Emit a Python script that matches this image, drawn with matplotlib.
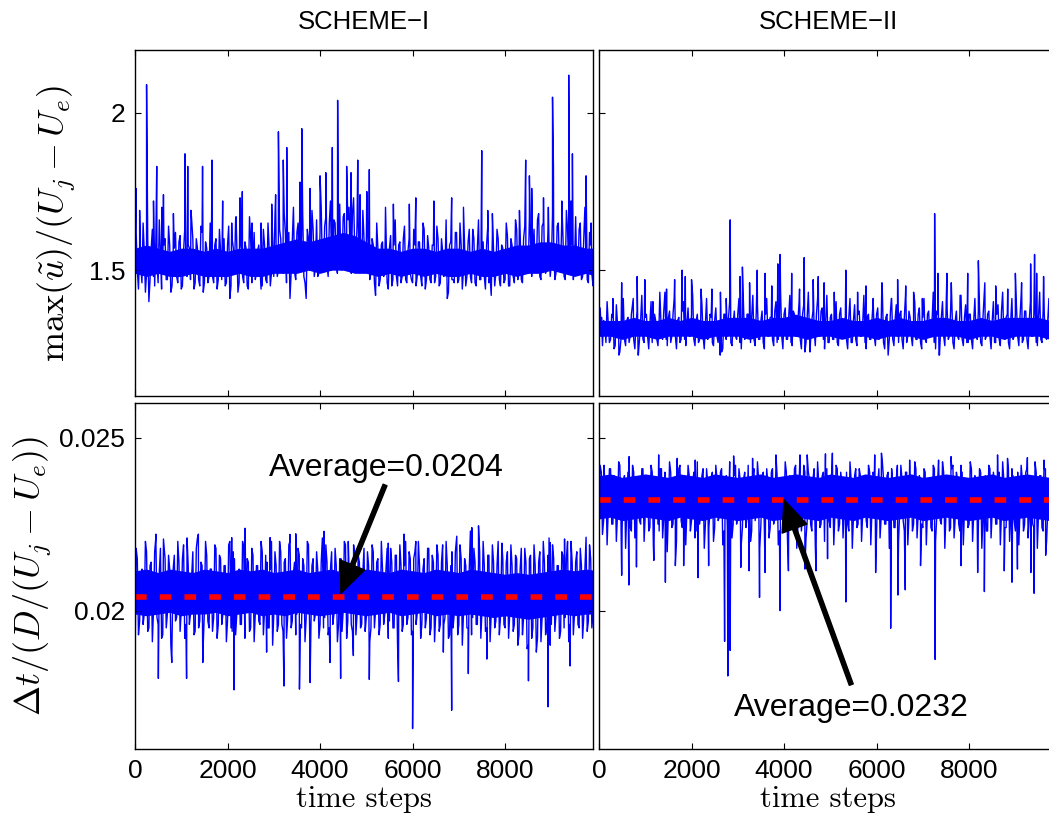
import numpy as np
import matplotlib.pyplot as plt

plt.rcParams['mathtext.fontset'] = 'cm'
plt.rcParams['font.family'] = ['Liberation Sans', 'DejaVu Sans']

# time step of each base sample (one reading every 50 steps, a second one 25 steps later)
steps = np.arange(200) * 50
# time step of each reading of the solid core of the trace
core_steps = np.arange(41) * 250

# ---- SCHEME-I, max(u)/(Uj-Ue), in hundredths ----
u1_base = [
    155, 150, 158, 146, 156, 149, 140, 157, 148, 159, 146, 156, 149, 160, 147, 158, 145, 157, 148, 159,
    144, 156, 149, 158, 147, 160, 146, 157, 145, 162, 146, 157, 148, 156, 146, 160, 147, 156, 149, 145,
    158, 141, 160, 149, 158, 146, 157, 146, 157, 144, 160, 150, 147, 156, 151, 145, 158, 146, 157, 149,
    148, 158, 150, 160, 149, 162, 151, 141, 160, 149, 162, 150, 161, 148, 141, 160, 150, 163, 151, 148,
    162, 151, 164, 152, 165, 150, 166, 152, 160, 152, 167, 153, 166, 155, 168, 156, 165, 151, 150, 160,
    158, 152, 149, 158, 142, 157, 147, 159, 150, 146, 157, 145, 158, 148, 158, 146, 160, 147, 156, 149,
    146, 158, 148, 159, 145, 163, 147, 157, 146, 158, 148, 160, 146, 156, 149, 141, 158, 147, 146, 162,
    147, 158, 150, 145, 159, 148, 163, 146, 157, 147, 150, 148, 158, 146, 142, 156, 149, 160, 145, 157,
    147, 161, 145, 158, 146, 163, 150, 147, 160, 151, 149, 160, 152, 150, 166, 148, 164, 152, 150, 158,
    152, 160, 149, 165, 150, 161, 147, 163, 150, 158, 152, 149, 163, 147, 160, 152, 146, 158, 145, 158,
]
u1_mid = [
    162, 144, 151, 165, 143, 160, 147, 163, 145, 152, 166, 144, 158, 147, 164, 143, 155, 162, 146, 161,
    145, 163, 148, 157, 166, 144, 160, 147, 164, 143, 159, 146, 165, 148, 158, 144, 163, 147, 160, 146,
    164, 145, 157, 166, 143, 161, 148, 159, 145, 167, 146, 162, 149, 158, 144, 163, 147, 165, 145, 160,
    167, 148, 163, 150, 168, 146, 162, 149, 170, 147, 165, 151, 168, 146, 163, 150, 169, 148, 166, 149,
    170, 150, 167, 148, 172, 151, 165, 149, 171, 150, 168, 152, 170, 149, 173, 151, 166, 150, 169, 152,
    164, 147, 160, 146, 165, 145, 158, 148, 163, 144, 161, 147, 166, 145, 159, 148, 164, 146, 160, 147,
    163, 145, 159, 148, 165, 144, 161, 147, 158, 146, 164, 145, 160, 148, 166, 143, 159, 147, 162, 146,
    165, 144, 158, 148, 163, 146, 160, 145, 166, 147, 159, 144, 164, 148, 161, 145, 163, 147, 158, 146,
    165, 145, 160, 148, 166, 147, 162, 146, 164, 149, 167, 148, 163, 150, 168, 147, 165, 149, 162, 148,
    168, 147, 164, 150, 166, 148, 169, 149, 163, 147, 167, 150, 165, 148, 170, 147, 162, 149, 166, 148,
]
u1_spikes = [
    (20, 176), (100, 169), (250, 209), (400, 172), (470, 183), (580, 170), (615, 174), (830, 168),
    (1080, 187), (1140, 183), (1210, 169), (1460, 183), (1665, 185), (1895, 172), (2090, 165),
    (2185, 167), (2270, 173), (2320, 175), (2530, 165), (2725, 165), (2955, 171), (3040, 174),
    (3100, 194), (3205, 185), (3280, 189), (3565, 178), (3605, 195), (3785, 176), (4000, 180),
    (4125, 181), (4265, 189), (4380, 204), (4575, 183), (4670, 181), (4815, 185), (4865, 174),
    (5010, 175), (5065, 182), (5415, 170), (5585, 171), (5930, 171), (6070, 173), (6460, 172),
    (6845, 173), (7100, 170), (7495, 188), (7625, 169), (7725, 168), (8310, 169), (8445, 185),
    (8525, 180), (8575, 176), (8830, 173), (8935, 170), (9025, 205), (9045, 183), (9225, 172),
    (9375, 212), (9425, 172), (9455, 187), (9750, 180), (9860, 165),
]
u1_core_lo = [
    149, 148, 149, 148, 148, 149, 148, 148, 148, 149, 148, 148, 149, 149, 149, 150, 149, 150, 150, 149,
    149, 148, 149, 148, 149, 148, 149, 148, 148, 149, 148, 148, 149, 148, 149, 149, 150, 149, 148, 149, 148,
]
u1_core_hi = [
    157, 158, 157, 156, 157, 157, 156, 157, 156, 157, 157, 157, 158, 159, 160, 159, 160, 161, 162, 161,
    159, 157, 157, 156, 157, 157, 156, 157, 157, 156, 157, 156, 157, 158, 158, 159, 159, 158, 158, 157, 157,
]

# ---- SCHEME-II, max(u)/(Uj-Ue), in hundredths ----
u2_base = [
    132, 129, 134, 127, 133, 128, 135, 126, 133, 124, 132, 128, 134, 127, 136, 128, 133, 123, 134, 128,
    135, 129, 133, 127, 136, 128, 134, 129, 137, 128, 135, 127, 136, 129, 134, 127, 137, 128, 133, 129,
    136, 128, 134, 127, 135, 129, 133, 128, 136, 127, 134, 129, 133, 124, 136, 128, 135, 127, 133, 129,
    136, 127, 134, 128, 136, 129, 135, 128, 137, 128, 134, 127, 136, 129, 135, 128, 137, 127, 134, 129,
    136, 128, 135, 127, 137, 129, 134, 128, 136, 124, 135, 130, 134, 131, 136, 129, 137, 128, 134, 127,
    135, 128, 133, 127, 136, 129, 134, 128, 135, 127, 134, 128, 136, 129, 133, 127, 135, 128, 134, 129,
    136, 128, 134, 127, 135, 124, 137, 128, 134, 129, 136, 128, 135, 127, 137, 129, 134, 128, 136, 127,
    135, 128, 136, 129, 134, 127, 137, 123, 135, 129, 136, 128, 137, 127, 134, 129, 136, 128, 135, 127,
    136, 128, 134, 129, 137, 127, 135, 128, 136, 129, 134, 127, 136, 128, 137, 129, 135, 127, 134, 128,
    136, 129, 135, 127, 137, 128, 134, 129, 136, 127, 135, 128, 137, 129, 134, 127, 136, 128, 135, 129,
]
u2_mid = [
    138, 126, 133, 140, 127, 136, 125, 139, 130, 128, 141, 126, 135, 129, 139, 125, 137, 128, 142, 127,
    136, 125, 140, 129, 134, 126, 139, 128, 143, 126, 137, 129, 141, 125, 135, 128, 140, 126, 138, 129,
    142, 126, 136, 128, 139, 125, 141, 129, 135, 126, 138, 127, 143, 125, 136, 129, 140, 126, 137, 128,
    141, 125, 138, 129, 136, 127, 142, 126, 139, 128, 137, 125, 141, 129, 135, 126, 140, 128, 143, 125,
    138, 128, 142, 126, 136, 129, 140, 125, 139, 127, 143, 128, 137, 126, 141, 129, 138, 125, 142, 127,
    136, 128, 140, 126, 138, 129, 135, 125, 141, 127, 139, 126, 137, 129, 142, 125, 136, 128, 140, 126,
    138, 129, 143, 125, 136, 128, 141, 126, 139, 127, 137, 125, 142, 129, 135, 126, 140, 128, 138, 125,
    141, 127, 137, 129, 143, 125, 136, 128, 140, 126, 138, 129, 141, 125, 137, 128, 142, 126, 139, 127,
    136, 125, 141, 128, 138, 126, 142, 129, 137, 125, 140, 127, 139, 126, 143, 128, 136, 125, 141, 129,
    138, 126, 142, 128, 137, 125, 140, 129, 139, 126, 143, 127, 136, 128, 141, 125, 138, 129, 140, 126,
]
u2_spikes = [
    (55, 135), (300, 141), (430, 123), (490, 146), (740, 141), (825, 148), (845, 123), (990, 147),
    (1165, 140), (1315, 143), (1460, 144), (1635, 147), (1795, 150), (1865, 148), (2000, 147),
    (2205, 144), (2440, 144), (2620, 123), (2750, 141), (2835, 166), (3050, 148), (3100, 151),
    (3255, 146), (3420, 150), (3590, 149), (3735, 145), (3865, 152), (3915, 155), (4165, 149),
    (4335, 144), (4435, 154), (4560, 124), (4630, 147), (4740, 148), (4865, 146), (5085, 143),
    (5335, 150), (5590, 143), (5770, 145), (5925, 141), (6115, 146), (6250, 123), (6320, 141),
    (6455, 147), (6630, 145), (6800, 143), (6990, 141), (7255, 168), (7325, 149), (7360, 123),
    (7520, 149), (7615, 146), (7805, 142), (7970, 149), (8200, 153), (8340, 146), (8575, 145),
    (8835, 144), (9000, 149), (9135, 146), (9330, 152), (9415, 155), (9460, 149), (9610, 148),
]
u2_core_lo = [
    129, 129, 128, 129, 129, 128, 129, 129, 129, 128, 129, 129, 129, 128, 129, 129, 129, 129, 128, 129,
    129, 128, 129, 129, 128, 129, 129, 129, 128, 129, 129, 129, 128, 129, 129, 128, 129, 129, 129, 128, 129,
]
u2_core_hi = [
    134, 134, 134, 135, 134, 134, 135, 134, 135, 134, 134, 135, 135, 135, 134, 135, 135, 136, 135, 134,
    134, 135, 134, 134, 135, 134, 135, 134, 134, 135, 135, 134, 134, 135, 134, 135, 135, 135, 135, 134, 134,
]

# ---- SCHEME-I, dt/(D/(Uj-Ue)), in units of 1e-5 ----
dt1_base = [
    2060, 2150, 1970, 2120, 1990, 2170, 1950, 2140, 2000, 2210, 1960, 2180, 1930, 2150, 1990, 2120, 1910, 2160, 1980, 2140,
    2000, 2190, 1960, 2130, 1990, 2170, 1940, 2210, 1970, 2130, 2000, 2160, 1950, 2120, 1980, 2180, 1960, 2150, 1990, 2130,
    1970, 2200, 1940, 2150, 1990, 2120, 1960, 2180, 2000, 2140, 1950, 2160, 1990, 2130, 1960, 2170, 2000, 2140, 1950, 2200,
    1990, 2130, 1960, 2170, 1940, 2150, 1980, 2200, 1970, 2140, 1990, 2160, 1950, 2130, 1980, 2190, 1930, 2150, 1990, 2120,
    1960, 2210, 1980, 2140, 1950, 2170, 1990, 2130, 1960, 2150, 2000, 2190, 1970, 2120, 1940, 2160, 1990, 2140, 1960, 2180,
    1980, 2130, 1950, 2170, 2000, 2150, 1960, 2120, 1990, 2180, 1970, 2140, 1950, 2160, 1990, 2130, 1960, 2200, 1980, 2150,
    1940, 2170, 1990, 2130, 1960, 2150, 1980, 2180, 1950, 2140, 1990, 2160, 1960, 2190, 1980, 2130, 1930, 2170, 1990, 2210,
    1960, 2150, 1990, 2130, 1950, 2230, 1980, 2140, 1960, 2170, 2000, 2130, 1950, 2160, 1990, 2140, 1970, 2200, 1980, 2150,
    1950, 2170, 1990, 2130, 1960, 2150, 1930, 2180, 1980, 2140, 1900, 2160, 1950, 2130, 1920, 2170, 1980, 2140, 1950, 2210,
    1960, 2150, 1990, 2130, 1940, 2160, 1980, 2200, 1960, 2140, 1990, 2170, 1950, 2130, 1980, 2210, 1970, 2150, 1990, 2140,
]
dt1_mid = [
    2180, 1930, 2090, 1960, 2200, 1940, 2130, 1910, 2170, 1980, 2110, 1920, 2190, 1950, 2160, 1900, 2120, 1970, 2200, 1940,
    2150, 1920, 2210, 1960, 2100, 1930, 2180, 1950, 2140, 1900, 2200, 1970, 2120, 1940, 2190, 1920, 2160, 1960, 2130, 1910,
    2190, 1950, 2170, 1930, 2110, 1960, 2200, 1920, 2150, 1940, 2180, 1910, 2130, 1970, 2200, 1930, 2160, 1950, 2120, 1900,
    2170, 1940, 2200, 1960, 2140, 1920, 2190, 1950, 2110, 1930, 2180, 1960, 2150, 1910, 2200, 1940, 2130, 1970, 2170, 1920,
    2140, 1950, 2190, 1930, 2120, 1960, 2180, 1910, 2150, 1940, 2200, 1920, 2130, 1960, 2190, 1930, 2160, 1950, 2110, 1940,
    2170, 1910, 2190, 1950, 2140, 1930, 2200, 1960, 2120, 1920, 2180, 1950, 2160, 1900, 2190, 1940, 2130, 1960, 2170, 1930,
    2150, 1960, 2200, 1920, 2120, 1950, 2180, 1930, 2160, 1910, 2190, 1940, 2140, 1960, 2200, 1920, 2130, 1950, 2170, 1930,
    2190, 1900, 2150, 1950, 2120, 1930, 2180, 1960, 2140, 1920, 2200, 1940, 2160, 1910, 2190, 1950, 2130, 1930, 2170, 1960,
    2140, 1920, 2190, 1940, 2160, 1900, 2120, 1930, 2180, 1890, 2150, 1920, 2190, 1880, 2140, 1910, 2200, 1930, 2160, 1900,
    2190, 1940, 2130, 1920, 2170, 1950, 2150, 1910, 2200, 1930, 2140, 1960, 2180, 1920, 2120, 1940, 2190, 1950, 2160, 1930,
]
dt1_spikes = [
    (0, 1847), (450, 2221), (505, 1804), (615, 2207), (795, 1850), (1115, 1804), (1370, 2221),
    (1465, 1850), (2090, 2211), (2140, 1771), (2380, 2238), (2845, 1880), (2920, 2211), (3220, 1782),
    (3350, 2220), (3475, 2222), (3555, 1773), (3785, 1792), (4085, 2229), (4215, 1850), (4445, 1804),
    (4610, 2200), (4720, 1870), (5065, 1801), (5475, 2195), (5695, 1795), (5815, 2221), (6000, 1659),
    (6070, 2200), (6665, 1880), (6845, 1712), (6955, 2215), (7205, 1818), (7280, 2240), (7425, 2245),
    (7605, 1860), (7930, 2195), (8505, 1797), (8925, 1722), (8975, 2197), (9285, 2207), (9405, 1840),
    (9750, 2212),
]
dt1_core_lo = [
    1990, 1985, 1990, 1995, 1985, 1990, 1990, 1995, 1985, 1990, 1995, 1985, 1990, 1985, 1995, 1990, 1985, 1990, 1995, 1990,
    1985, 1990, 1995, 1985, 1990, 1995, 1985, 1990, 1985, 1990, 1985, 1980, 1985, 1980, 1975, 1980, 1985, 1990, 1985, 1990, 1990,
]
dt1_core_hi = [
    2115, 2120, 2110, 2120, 2115, 2110, 2120, 2115, 2110, 2120, 2115, 2120, 2110, 2115, 2120, 2110, 2115, 2120, 2110, 2115,
    2120, 2115, 2110, 2120, 2115, 2110, 2120, 2115, 2110, 2120, 2115, 2110, 2105, 2110, 2105, 2110, 2115, 2120, 2115, 2120, 2115,
]

# ---- SCHEME-II, dt/(D/(Uj-Ue)), in units of 1e-5 ----
dt2_base = [
    2330, 2400, 2260, 2380, 2290, 2410, 2250, 2370, 2280, 2420, 2240, 2390, 2290, 2370, 2230, 2400, 2270, 2380, 2250, 2410,
    2280, 2370, 2240, 2400, 2290, 2380, 2230, 2410, 2270, 2370, 2290, 2400, 2250, 2380, 2280, 2420, 2240, 2370, 2290, 2390,
    2260, 2400, 2230, 2380, 2280, 2410, 2250, 2370, 2290, 2400, 2240, 2380, 2270, 2410, 2230, 2390, 2280, 2370, 2250, 2420,
    2280, 2380, 2240, 2400, 2270, 2370, 2230, 2410, 2290, 2380, 2250, 2400, 2280, 2370, 2240, 2410, 2270, 2390, 2230, 2380,
    2290, 2400, 2250, 2380, 2270, 2420, 2240, 2370, 2280, 2400, 2260, 2380, 2230, 2410, 2290, 2370, 2250, 2400, 2270, 2390,
    2240, 2380, 2280, 2410, 2250, 2370, 2290, 2400, 2230, 2380, 2270, 2410, 2250, 2390, 2280, 2370, 2240, 2400, 2290, 2380,
    2230, 2410, 2270, 2380, 2250, 2400, 2280, 2370, 2240, 2420, 2290, 2380, 2230, 2400, 2270, 2390, 2250, 2410, 2280, 2370,
    2240, 2400, 2290, 2380, 2230, 2410, 2270, 2370, 2250, 2400, 2280, 2390, 2240, 2420, 2270, 2380, 2230, 2400, 2290, 2370,
    2250, 2410, 2280, 2380, 2240, 2400, 2270, 2390, 2230, 2410, 2290, 2370, 2250, 2400, 2280, 2380, 2240, 2410, 2270, 2390,
    2230, 2400, 2290, 2380, 2250, 2410, 2270, 2370, 2240, 2400, 2280, 2390, 2230, 2410, 2290, 2380, 2250, 2400, 2270, 2390,
]
dt2_mid = [
    2420, 2220, 2360, 2190, 2410, 2250, 2390, 2200, 2430, 2260, 2370, 2180, 2400, 2240, 2420, 2210, 2380, 2260, 2410, 2200,
    2390, 2230, 2420, 2190, 2370, 2250, 2410, 2210, 2400, 2170, 2430, 2240, 2380, 2200, 2410, 2260, 2390, 2190, 2420, 2230,
    2370, 2210, 2430, 2250, 2390, 2180, 2410, 2240, 2380, 2200, 2420, 2260, 2400, 2190, 2370, 2230, 2430, 2210, 2390, 2250,
    2410, 2190, 2380, 2240, 2420, 2200, 2390, 2260, 2430, 2180, 2370, 2230, 2410, 2210, 2400, 2250, 2420, 2190, 2380, 2240,
    2430, 2200, 2390, 2260, 2410, 2180, 2370, 2230, 2420, 2210, 2400, 2250, 2380, 2190, 2430, 2240, 2390, 2200, 2410, 2260,
    2380, 2190, 2420, 2230, 2400, 2210, 2370, 2250, 2430, 2180, 2390, 2240, 2410, 2200, 2380, 2260, 2420, 2190, 2400, 2230,
    2370, 2210, 2430, 2250, 2390, 2180, 2410, 2240, 2380, 2200, 2420, 2260, 2400, 2190, 2370, 2230, 2430, 2210, 2390, 2250,
    2410, 2190, 2380, 2240, 2420, 2200, 2390, 2260, 2430, 2180, 2370, 2230, 2410, 2210, 2400, 2250, 2420, 2190, 2380, 2240,
    2430, 2200, 2390, 2260, 2410, 2180, 2370, 2230, 2420, 2210, 2400, 2250, 2380, 2190, 2430, 2240, 2390, 2200, 2410, 2260,
    2380, 2190, 2420, 2230, 2400, 2210, 2370, 2250, 2430, 2180, 2390, 2240, 2410, 2200, 2380, 2260, 2420, 2190, 2400, 2230,
]
dt2_spikes = [
    (110, 2420), (490, 2102), (645, 2074), (650, 2445), (810, 2126), (1185, 2145), (1290, 2450),
    (1435, 2082), (1650, 2130), (1690, 2440), (1830, 2130), (2080, 2435), (2140, 2095), (2370, 2130),
    (2715, 1911), (2785, 1811), (2835, 1885), (2910, 2447), (3065, 2125), (3245, 2115), (3320, 2440),
    (3470, 2038), (3590, 2110), (3825, 2450), (3915, 2000), (4095, 2115), (4345, 2450), (4450, 2120),
    (4500, 2450), (4690, 2115), (4895, 2453), (4940, 2150), (5045, 2455), (5335, 2025), (5960, 2450),
    (5980, 2110), (6105, 2455), (6305, 1949), (6460, 2045), (6620, 2060), (6715, 2435), (6950, 2130),
    (7265, 1859), (7340, 2435), (7610, 2445), (7825, 2130), (8185, 2110), (8330, 2055), (8615, 2450),
    (8760, 2115), (8830, 2440), (8925, 2082), (9045, 2120), (9260, 2442), (9335, 2110), (9405, 2050),
    (9620, 2435), (9655, 2160),
]
dt2_core_lo = [
    2265, 2270, 2260, 2265, 2270, 2265, 2260, 2270, 2265, 2260, 2270, 2265, 2260, 2265, 2270, 2260, 2265, 2270, 2265, 2260,
    2270, 2265, 2260, 2270, 2265, 2260, 2265, 2270, 2260, 2265, 2270, 2265, 2260, 2265, 2270, 2260, 2265, 2270, 2265, 2260, 2265,
]
dt2_core_hi = [
    2390, 2395, 2385, 2390, 2395, 2390, 2385, 2395, 2390, 2385, 2395, 2390, 2385, 2390, 2395, 2385, 2390, 2395, 2390, 2385,
    2395, 2390, 2385, 2395, 2390, 2385, 2390, 2395, 2385, 2390, 2395, 2390, 2385, 2390, 2395, 2385, 2390, 2395, 2390, 2385, 2390,
]

avg1 = 0.0204
avg2 = 0.0232


def merged(base, mid, spikes, scale):
    # put all readings of one trace in time order
    sx, sy = zip(*spikes)
    x = np.concatenate([steps, steps + 25, sx])
    y = np.concatenate([base, mid, sy]) / scale
    order = np.argsort(x, kind='stable')
    return x[order], y[order]


fig = plt.figure(figsize=(10.49, 8.22), dpi=100)
W, H = 1049.0, 822.0
axw, axh = 458 / W, 346 / H
ax_tl = fig.add_axes([135 / W, 1 - 396 / H, axw, axh])
ax_tr = fig.add_axes([599 / W, 1 - 396 / H, axw, axh])
ax_bl = fig.add_axes([135 / W, 1 - 749 / H, axw, axh])
ax_br = fig.add_axes([599 / W, 1 - 749 / H, axw, axh])

series = [
    (ax_tl, merged(u1_base, u1_mid, u1_spikes, 100.0), u1_core_lo, u1_core_hi, 100.0),
    (ax_tr, merged(u2_base, u2_mid, u2_spikes, 100.0), u2_core_lo, u2_core_hi, 100.0),
    (ax_bl, merged(dt1_base, dt1_mid, dt1_spikes, 1e5), dt1_core_lo, dt1_core_hi, 1e5),
    (ax_br, merged(dt2_base, dt2_mid, dt2_spikes, 1e5), dt2_core_lo, dt2_core_hi, 1e5),
]
for ax, (x, y), lo, hi, sc in series:
    # the densest part of the trace reads as solid blue
    ax.fill_between(core_steps, np.array(lo) / sc, np.array(hi) / sc,
                    color='#0000ff', lw=0)
    ax.plot(x, y, color='#0000ff', lw=1.0)
    ax.set_xlim(0, 9900)
    ax.set_xticks([0, 2000, 4000, 6000, 8000])
    ax.tick_params(direction='in', top=True, right=True, length=4, width=0.8,
                   labelsize=19, pad=7)
    for s in ax.spines.values():
        s.set_linewidth(1.0)

for ax in (ax_tl, ax_tr):
    ax.set_ylim(1.1, 2.2)
    ax.set_yticks([1.5, 2])
    ax.set_yticklabels(['1.5', '2'])
    ax.tick_params(labelbottom=False)
for ax in (ax_bl, ax_br):
    ax.set_ylim(0.016, 0.026)
    ax.set_yticks([0.02, 0.025])
    ax.set_yticklabels(['0.02', '0.025'])
    ax.set_xlabel('time steps', fontname='cmr10', fontsize=22, labelpad=2)
for ax in (ax_tr, ax_br):
    ax.tick_params(labelleft=False)

ax_tl.set_title('SCHEME\u2212I', fontsize=18.5, pad=15)
ax_tr.set_title('SCHEME\u2212II', fontsize=18.5, pad=15)
ax_tl.set_ylabel(r'$\max(\tilde{u})/(U_j-U_e)$', fontsize=26, labelpad=8)
ax_bl.set_ylabel(r'$\Delta t/(D/(U_j-U_e))$', fontsize=26, labelpad=4)

# mean time step lines
for ax, a in ((ax_bl, avg1), (ax_br, avg2)):
    ax.axhline(a, color='red', lw=4, dashes=(2.1, 2.35), dash_capstyle='butt')

arrow = dict(facecolor='black', edgecolor='black', width=3, headwidth=19,
             headlength=22, shrink=0)
ax_bl.annotate('', xy=(4450, 0.0205), xytext=(5405, 0.02363), arrowprops=arrow)
ax_bl.text(5427, 0.02388, 'Average=0.0204', ha='center', va='baseline', fontsize=23)
ax_br.annotate('', xy=(4000, 0.0232), xytext=(5453, 0.01786), arrowprops=arrow)
ax_br.text(5463, 0.01695, 'Average=0.0232', ha='center', va='baseline', fontsize=23)

fig.savefig('out.png', dpi=100)
